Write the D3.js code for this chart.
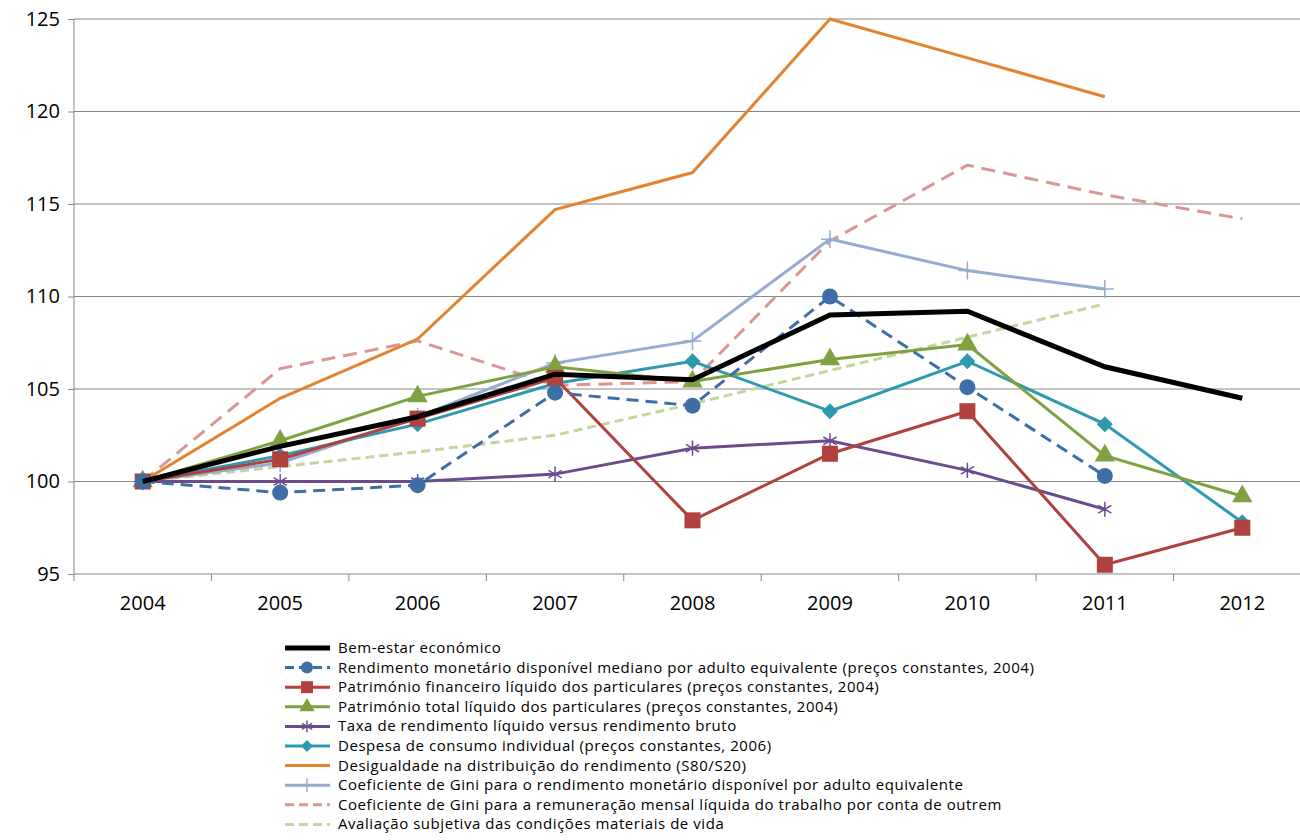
<!DOCTYPE html>
<html><head><meta charset="utf-8">
<script src="https://cdn.jsdelivr.net/npm/d3@7"></script>
<style>body{margin:0;background:#fff}svg{display:block}text{font-family:"Open Sans","Liberation Sans",sans-serif}</style>
</head><body><svg id="c" width="1300" height="840"></svg>
<script>
var years = ["2004","2005","2006","2007","2008","2009","2010","2011","2012"];
var yTicks = [95,100,105,110,115,120,125];
var bemEstar = [100,101.9,103.5,105.8,105.5,109.0,109.2,106.2,104.5];
var rendMediano = [100,99.4,99.8,104.8,104.1,110.0,105.1,100.3,null];
var patFinanceiro = [100,101.2,103.4,105.6,97.9,101.5,103.8,95.5,97.5];
var patTotal = [100,102.2,104.6,106.2,105.4,106.6,107.4,101.4,99.2];
var taxaRend = [100,100.0,100.0,100.4,101.8,102.2,100.6,98.5,null];
var despesa = [100,101.4,103.1,105.3,106.5,103.8,106.5,103.1,97.8];
var desigualdade = [100,104.5,107.7,114.7,116.7,125.0,122.9,120.8,null];
var giniRend = [100,101.0,103.5,106.4,107.6,113.1,111.4,110.4,null];
var giniRemun = [100,106.1,107.6,105.2,105.4,113.0,117.1,115.5,114.2];
var avaliacao = [100,100.8,101.6,102.5,104.2,106.0,107.8,109.6,null];

var series = [
 {name:"Bem-estar económico", v:bemEstar, c:"#000000", w:5, dash:null, m:null},
 {name:"Rendimento monetário disponível mediano por adulto equivalente (preços constantes, 2004)", v:rendMediano, c:"#3f6ea6", w:3, dash:"12,7", m:"circle"},
 {name:"Património financeiro líquido dos particulares (preços constantes, 2004)", v:patFinanceiro, c:"#b0413e", w:3, dash:null, m:"square"},
 {name:"Património total líquido dos particulares (preços constantes, 2004)", v:patTotal, c:"#7fa13f", w:3, dash:null, m:"triangle"},
 {name:"Taxa de rendimento líquido versus rendimento bruto", v:taxaRend, c:"#6a4c8c", w:3, dash:null, m:"star"},
 {name:"Despesa de consumo individual (preços constantes, 2006)", v:despesa, c:"#2f9aaf", w:3, dash:null, m:"diamond"},
 {name:"Desigualdade na distribuição do rendimento (S80/S20)", v:desigualdade, c:"#e3822f", w:3, dash:null, m:null},
 {name:"Coeficiente de Gini para o rendimento monetário disponível por adulto equivalente", v:giniRend, c:"#95abd3", w:3, dash:null, m:"plus"},
 {name:"Coeficiente de Gini para a remuneração mensal líquida do trabalho por conta de outrem", v:giniRemun, c:"#d99694", w:3, dash:"14,8", m:null},
 {name:"Avaliação subjetiva das condições materiais de vida", v:avaliacao, c:"#c3d69b", w:3, dash:"9,5", m:null}
];

var svg = d3.select("#c");
var x = d3.scaleBand().domain(years).range([74,1311]);
var y = d3.scaleLinear().domain([95,125]).range([574,19]);

svg.append("g").selectAll("line").data(yTicks).enter().append("line")
 .attr("x1",74).attr("x2",1300).attr("y1",d=>y(d)).attr("y2",d=>y(d))
 .attr("stroke","#878787").attr("stroke-width",1);
svg.append("line").attr("x1",74).attr("x2",74).attr("y1",19).attr("y2",574).attr("stroke","#878787");

var ya = svg.append("g").attr("transform","translate(74,0)").call(d3.axisLeft(y).tickValues(yTicks).tickSize(6).tickPadding(8));
ya.select(".domain").remove();
ya.selectAll("line").attr("stroke","#878787");
ya.selectAll("text").style("font-size","20px").attr("fill","#000");
var xa = svg.append("g").attr("transform","translate(0,574)").call(d3.axisBottom(x).tickSize(0).tickPadding(22));
xa.select(".domain").remove();
xa.selectAll("text").style("font-size","20px").attr("fill","#000");
svg.append("g").selectAll("line").data(years.concat(["end"])).enter().append("line")
 .attr("x1",(d,i)=>74+i*x.step()).attr("x2",(d,i)=>74+i*x.step()).attr("y1",574).attr("y2",581).attr("stroke","#878787");

var cx = d => x(d)+x.bandwidth()/2;
function marker(g, type, c, px, py, s){
 if(type=="circle") g.append("circle").attr("cx",px).attr("cy",py).attr("r",s).attr("fill",c);
 else if(type=="square") g.append("rect").attr("x",px-s).attr("y",py-s).attr("width",2*s).attr("height",2*s).attr("fill",c);
 else if(type=="triangle") g.append("path").attr("d",d3.symbol(d3.symbolTriangle,s*s*2.8)()).attr("transform","translate("+px+","+py+")").attr("fill",c);
 else if(type=="diamond") g.append("path").attr("d","M0,"+(-s)+"L"+s+",0L0,"+s+"L"+(-s)+",0Z").attr("transform","translate("+px+","+py+")").attr("fill",c);
 else if(type=="star"){var st=d3.symbol(d3.symbolAsterisk,s*s*2)();g.append("path").attr("d",st).attr("transform","translate("+px+","+py+")").attr("stroke",c).attr("stroke-width",1.5).attr("fill","none");}
 else if(type=="plus") g.append("path").attr("d","M"+(-s)+",0H"+s+"M0,"+(-s)+"V"+s).attr("transform","translate("+px+","+py+")").attr("stroke",c).attr("stroke-width",1.5);
}

var order = [9,8,7,6,5,4,3,2,1,0];
var line = d3.line().defined(d=>d.v!=null).x(d=>cx(d.y)).y(d=>y(d.v));
order.forEach(function(k){
 var s = series[k];
 var pts = s.v.map((v,i)=>({y:years[i],v:v}));
 var g = svg.append("g");
 g.append("path").datum(pts).attr("d",line).attr("fill","none").attr("stroke",s.c)
  .attr("stroke-width",s.w).attr("stroke-dasharray",s.dash);
 if(s.m) pts.filter(p=>p.v!=null).forEach(p=>marker(g,s.m,s.c,cx(p.y),y(p.v),s.m=="star"||s.m=="plus"?9:8));
});

var lg = svg.append("g");
series.forEach(function(s,i){
 var yy = 648+i*19.6;
 lg.append("line").attr("x1",285).attr("x2",330).attr("y1",yy).attr("y2",yy).attr("stroke",s.c)
  .attr("stroke-width",s.w).attr("stroke-dasharray",s.dash?"9,5":null);
 if(s.m) marker(lg,s.m,s.c,307,yy,s.m=="star"||s.m=="plus"?7:6);
 lg.append("text").attr("x",338).attr("y",yy+5).text(s.name).style("font-size","15px").style("letter-spacing","0.55px").attr("fill","#000");
});
</script></body></html>
